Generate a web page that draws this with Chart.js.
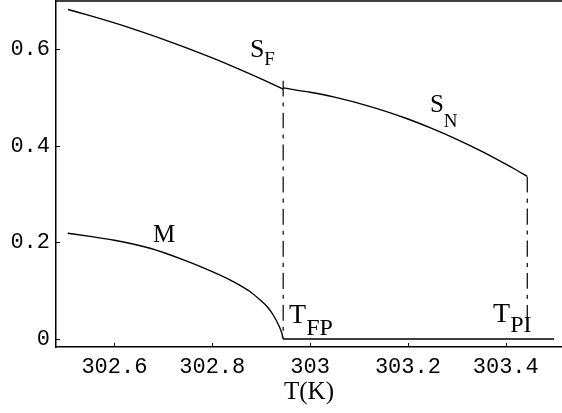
<!DOCTYPE html>
<html>
<head>
<meta charset="utf-8">
<script src="https://cdn.jsdelivr.net/npm/chart.js@4/dist/chart.umd.min.js"></script>
<style>
  html, body { margin: 0; padding: 0; background: #fff; }
  #wrap { width: 562px; height: 413px; }
</style>
</head>
<body>
<div id="wrap"><canvas id="chart" width="562" height="413"></canvas></div>
<script>
// temperatures (K) and values
const sfT = [302.505, 302.55, 302.6, 302.65, 302.7, 302.75, 302.8, 302.85, 302.9, 302.945];
const sfV = [0.6824, 0.6697, 0.6546, 0.6382, 0.6207, 0.6020, 0.5821, 0.5610, 0.5387, 0.5177];

const snT = [302.945, 303.0, 303.05, 303.1, 303.15, 303.2, 303.25, 303.3, 303.35, 303.4, 303.42, 303.444];
const snV = [0.520, 0.511, 0.501, 0.488, 0.473, 0.4556, 0.4357, 0.4136, 0.3892, 0.3623, 0.351, 0.3368];

const mT = [302.5045, 302.55, 302.6, 302.673, 302.74, 302.8, 302.843, 302.877, 302.898, 302.912, 302.924, 302.937, 302.943, 302.945, 303.1, 303.3, 303.499];
const mV = [0.2189, 0.2125, 0.2045, 0.1880, 0.1645, 0.1397, 0.1190, 0.0983, 0.0807, 0.0673, 0.0507, 0.0259, 0.0093, 0, 0, 0, 0];

const tFP = 302.945;
const tPI = 303.444;
const fpLine = [0.535, 0.003];
const piLine = [0.336, 0.009];

const xTicks = [302.6, 302.8, 303, 303.2, 303.4];
const xTickLabels = ["302.6", "302.8", "303", "303.2", "303.4"];
const yTicks = [0, 0.2, 0.4, 0.6];
const yTickLabels = ["0", "0.2", "0.4", "0.6"];

const pts = (xs, ys) => xs.map((x, i) => ({ x: x, y: ys[i] }));
const lineStyle = { showLine: true, pointRadius: 0, borderColor: "#000", borderWidth: 1.4, fill: false, cubicInterpolationMode: "monotone" };

// labels on the curves: [main, sub, T, value, main size, sub size, sub drop]
const curveLabels = [
  ["S", "F", 302.877, 0.585, 26, 19, 8],
  ["S", "N", 303.245, 0.471, 25, 19, 15],
  ["M", "", 302.679, 0.200, 25, 19, 0],
  ["T", "FP", 302.957, 0.034, 28, 24, 12],
  ["T", "PI", 303.374, 0.036, 28, 24, 10]
];

const framePlugin = {
  id: "frame",
  afterDraw(chart) {
    const ctx = chart.ctx;
    const xs = chart.scales.x, ys = chart.scales.y;
    const a = chart.chartArea;
    ctx.save();
    ctx.strokeStyle = "#000";
    ctx.lineWidth = 1.5;
    ctx.beginPath();
    ctx.moveTo(a.left, a.top);
    ctx.lineTo(a.right, a.top);
    ctx.stroke();
    ctx.lineWidth = 1;
    ctx.beginPath();
    xTicks.forEach(v => {
      const px = Math.round(xs.getPixelForValue(v)) + 0.5;
      ctx.moveTo(px, a.bottom);
      ctx.lineTo(px, a.bottom - 4);
    });
    yTicks.forEach(v => {
      const py = Math.round(ys.getPixelForValue(v)) + 0.5;
      ctx.moveTo(a.left, py);
      ctx.lineTo(a.left + 4, py);
    });
    ctx.stroke();
    ctx.fillStyle = "#000";
    ctx.textBaseline = "alphabetic";
    ctx.textAlign = "left";
    curveLabels.forEach(l => {
      const px = xs.getPixelForValue(l[2]);
      const py = ys.getPixelForValue(l[3]);
      ctx.font = l[4] + "px 'Liberation Serif'";
      ctx.fillText(l[0], px, py);
      if (l[1]) {
        const w = ctx.measureText(l[0]).width;
        ctx.font = l[5] + "px 'Liberation Serif'";
        ctx.fillText(l[1], px + w, py + l[6]);
      }
    });
    ctx.restore();
  }
};

new Chart(document.getElementById("chart"), {
  type: "scatter",
  data: {
    datasets: [
      Object.assign({ data: pts(sfT, sfV) }, lineStyle),
      Object.assign({ data: pts(snT, snV) }, lineStyle),
      Object.assign({ data: pts(mT, mV) }, lineStyle),
      Object.assign({ data: pts([tFP, tFP], fpLine) }, lineStyle, { borderDash: [16, 6, 4, 6], borderWidth: 1.2 }),
      Object.assign({ data: pts([tPI, tPI], piLine) }, lineStyle, { borderDash: [16, 6, 4, 6], borderWidth: 1.2 })
    ]
  },
  options: {
    responsive: false,
    animation: false,
    layout: { padding: { top: 1, right: 0, left: 0, bottom: 0 } },
    plugins: { legend: { display: false }, tooltip: { enabled: false } },
    scales: {
      x: {
        type: "linear",
        min: 302.4806,
        max: 303.515,
        grid: { display: false, drawTicks: false },
        border: { display: true, color: "#000", width: 1.5 },
        afterBuildTicks: s => { s.ticks = xTicks.map(v => ({ value: v })); },
        afterFit: s => { s.height = 66; s.paddingLeft = 0; s.paddingRight = 0; },
        ticks: {
          color: "#000",
          padding: 7,
          maxRotation: 0,
          font: { family: "'Liberation Mono'", size: 22 },
          callback: v => xTickLabels[xTicks.indexOf(v)]
        },
        title: {
          display: true,
          text: "T(K)",
          color: "#000",
          padding: { top: 0, bottom: 6 },
          font: { family: "'Liberation Serif'", size: 25 }
        }
      },
      y: {
        type: "linear",
        min: -0.0166,
        max: 0.700,
        grid: { display: false, drawTicks: false },
        border: { display: true, color: "#000", width: 1.5 },
        afterBuildTicks: s => { s.ticks = yTicks.map(v => ({ value: v })); },
        afterFit: s => { s.width = 56; s.paddingTop = 0; s.paddingBottom = 0; },
        ticks: {
          color: "#000",
          padding: 6,
          font: { family: "'Liberation Mono'", size: 22 },
          callback: v => yTickLabels[yTicks.indexOf(v)]
        }
      }
    }
  },
  plugins: [framePlugin]
});
</script>
</body>
</html>
